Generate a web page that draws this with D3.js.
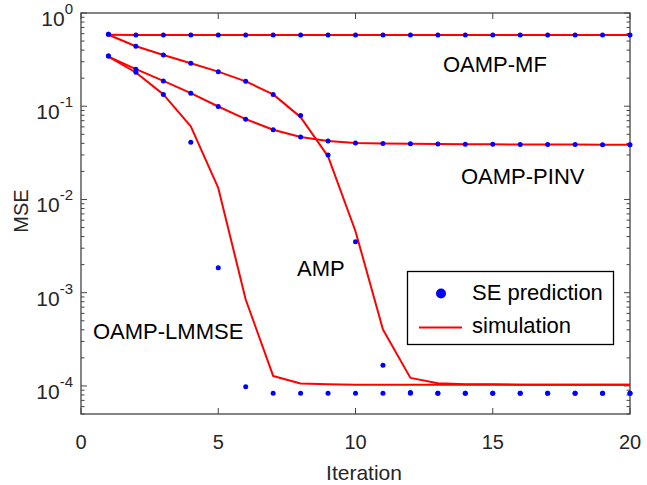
<!DOCTYPE html>
<html>
<head>
<meta charset="utf-8">
<script src="https://cdn.jsdelivr.net/npm/d3@7"></script>
<style>
  body { margin: 0; background: #fff; }
  text { font-family: Arial, "Liberation Sans", Helvetica, sans-serif; }
</style>
</head>
<body>
<svg id="chart" width="647" height="485"></svg>
<script>
const iterations = [1,2,3,4,5,6,7,8,9,10,11,12,13,14,15,16,17,18,19,20];

const mfSim = [0.585,0.582,0.582,0.582,0.582,0.582,0.582,0.582,0.582,0.582,0.582,0.582,0.582,0.582,0.582,0.582,0.582,0.582,0.582,0.582];
const mfSE  = [0.59,0.582,0.582,0.582,0.582,0.582,0.582,0.582,0.582,0.582,0.582,0.582,0.582,0.582,0.582,0.582,0.582,0.582,0.582,0.582];

const pinvSim = [0.34,0.25,0.187,0.138,0.0993,0.0727,0.0559,0.0467,0.0423,0.0403,0.0398,0.0395,0.0393,0.0391,0.039,0.0389,0.0388,0.0388,0.0387,0.0387];
const pinvSE  = [0.345,0.25,0.187,0.138,0.0993,0.0727,0.0559,0.0467,0.0423,0.0403,0.0398,0.0395,0.0393,0.0391,0.039,0.0389,0.0388,0.0388,0.0387,0.0387];

const ampSim = [0.585,0.44,0.355,0.289,0.235,0.185,0.134,0.0764,0.029,0.00456,0.000404,0.000122,0.000107,0.000104,0.000104,0.000103,0.000103,0.000103,0.000103,0.000103];
const ampSE  = [0.59,0.44,0.355,0.289,0.235,0.185,0.134,0.0796,0.030,0.00351,0.000167,0.000085,0.0000835,0.0000835,0.0000835,0.0000835,0.0000835,0.0000835,0.0000835,0.0000835];

const lmmseSim = [0.34,0.23,0.134,0.0607,0.0133,0.000846,0.000128,0.000106,0.000104,0.000103,0.000103,0.000103,0.000103,0.000103,0.000103,0.000103,0.000103,0.000103,0.000103,0.000103];
const lmmseSE  = [0.345,0.232,0.134,0.0412,0.00185,0.000098,0.0000835,0.0000835,0.0000835,0.0000835,0.0000835,0.0000835,0.0000835,0.0000835,0.0000835,0.0000835,0.0000835,0.0000835,0.0000835,0.0000835];

const xTicks = [0,5,10,15,20];
const yTicks = [1e0,1e-1,1e-2,1e-3,1e-4];
const yExponents = ["0","-1","-2","-3","-4"];

const labels = [
  {text:"OAMP-MF", x:443, y:72},
  {text:"OAMP-PINV", x:461, y:184},
  {text:"AMP", x:297, y:276},
  {text:"OAMP-LMMSE", x:93, y:339}
];

const svg = d3.select("#chart");
const pLeft = 81, pRight = 630, pTop = 13, pBottom = 414;

const x = d3.scaleLinear().domain([0,20]).range([pLeft,pRight]);
const y = d3.scaleLog().domain([5e-5,1]).range([pBottom,pTop]);

const axisColor = "#444";

// minor log ticks
let minor = [];
for (let e = -5; e < 0; e++) {
  for (let m = 2; m <= 9; m++) {
    let v = m * Math.pow(10, e);
    if (v >= 5e-5 && v <= 1) minor.push(v);
  }
}

const tickG = svg.append("g");
minor.forEach(v => {
  tickG.append("line").attr("x1", pLeft).attr("x2", pLeft + 3.5).attr("y1", y(v)).attr("y2", y(v))
    .attr("stroke", axisColor).attr("stroke-width", 1);
  tickG.append("line").attr("x1", pRight).attr("x2", pRight - 3.5).attr("y1", y(v)).attr("y2", y(v))
    .attr("stroke", axisColor).attr("stroke-width", 1);
});
yTicks.forEach(v => {
  tickG.append("line").attr("x1", pLeft).attr("x2", pLeft + 6).attr("y1", y(v)).attr("y2", y(v))
    .attr("stroke", axisColor).attr("stroke-width", 1);
  tickG.append("line").attr("x1", pRight).attr("x2", pRight - 6).attr("y1", y(v)).attr("y2", y(v))
    .attr("stroke", axisColor).attr("stroke-width", 1);
});
xTicks.forEach(v => {
  tickG.append("line").attr("x1", x(v)).attr("x2", x(v)).attr("y1", pBottom).attr("y2", pBottom - 6)
    .attr("stroke", axisColor).attr("stroke-width", 1);
  tickG.append("line").attr("x1", x(v)).attr("x2", x(v)).attr("y1", pTop).attr("y2", pTop + 6)
    .attr("stroke", axisColor).attr("stroke-width", 1);
});

// box
svg.append("rect")
  .attr("x", pLeft).attr("y", pTop)
  .attr("width", pRight - pLeft).attr("height", pBottom - pTop)
  .attr("fill", "none").attr("stroke", axisColor).attr("stroke-width", 1.3);

// tick labels
svg.selectAll(".xlab").data(xTicks).enter().append("text")
  .attr("x", d => x(d)).attr("y", 449)
  .attr("text-anchor", "middle")
  .attr("font-size", 20).attr("fill", "#262626")
  .text(d => d);

yTicks.forEach((v, i) => {
  let t = svg.append("text")
    .attr("x", 73).attr("y", y(v) + 13)
    .attr("text-anchor", "end")
    .attr("font-size", 21).attr("fill", "#262626");
  t.append("tspan").text("10");
  t.append("tspan").attr("dy", -12).attr("font-size", 15).text(yExponents[i]);
});

svg.append("text")
  .attr("x", 364).attr("y", 480)
  .attr("text-anchor", "middle")
  .attr("font-size", 21).attr("fill", "#262626")
  .text("Iteration");

svg.append("text")
  .attr("transform", "translate(28,211) rotate(-90)")
  .attr("text-anchor", "middle")
  .attr("font-size", 20).attr("fill", "#262626")
  .text("MSE");

const line = d3.line()
  .x((d, i) => x(iterations[i]))
  .y(d => y(d));

const sims = [mfSim, pinvSim, ampSim, lmmseSim];
const ses = [mfSE, pinvSE, ampSE, lmmseSE];

sims.forEach(s => {
  svg.append("path")
    .datum(s)
    .attr("d", line)
    .attr("fill", "none")
    .attr("stroke", "#ff0000")
    .attr("stroke-width", 2)
    .attr("stroke-linejoin", "round");
});

ses.forEach(s => {
  svg.append("g").selectAll("circle")
    .data(s)
    .enter()
    .append("circle")
    .attr("cx", (d, i) => x(iterations[i]))
    .attr("cy", d => y(d))
    .attr("r", 2.5)
    .attr("fill", "#0000ff");
});

labels.forEach(l => {
  svg.append("text")
    .attr("x", l.x).attr("y", l.y)
    .attr("font-size", 22).attr("fill", "#000")
    .text(l.text);
});

// legend
const lg = svg.append("g");
lg.append("rect")
  .attr("x", 407.5).attr("y", 271.5)
  .attr("width", 206).attr("height", 73)
  .attr("fill", "#fff").attr("stroke", "#000").attr("stroke-width", 1.3);
lg.append("circle").attr("cx", 441).attr("cy", 293.5).attr("r", 5).attr("fill", "#0000ff");
lg.append("line").attr("x1", 419).attr("x2", 462).attr("y1", 327.5).attr("y2", 327.5)
  .attr("stroke", "#ff0000").attr("stroke-width", 2);
lg.append("text").attr("x", 472).attr("y", 300).attr("font-size", 22).attr("fill", "#000").text("SE prediction");
lg.append("text").attr("x", 472).attr("y", 333).attr("font-size", 22).attr("fill", "#000").text("simulation");
</script>
</body>
</html>
